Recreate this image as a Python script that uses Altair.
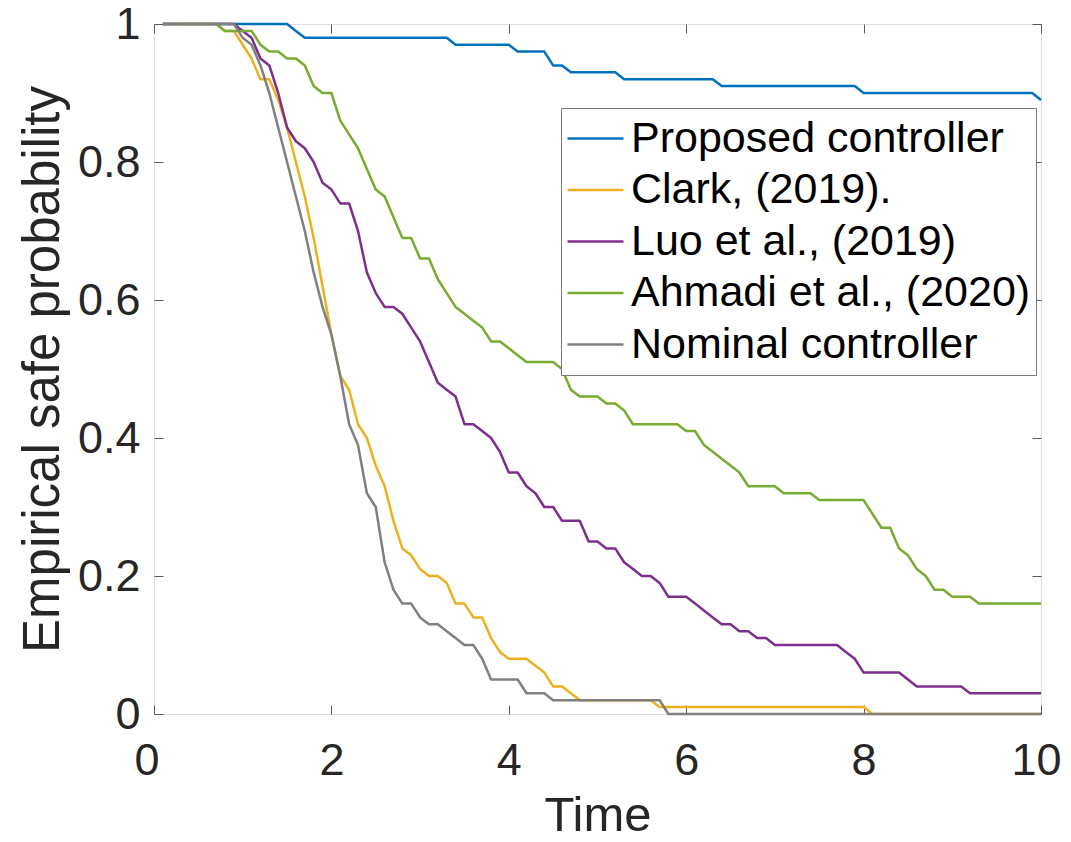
import altair as alt
import pandas as pd

# ---- data ----
series_names = ["Proposed controller", "Clark, (2019).", "Luo et al., (2019)",
                "Ahmadi et al., (2020)", "Nominal controller"]
series_colors = ["#0072BD", "#EDB120", "#7E2F8E", "#77AC30", "#808080"]

proposed_t = [0.1, 1.5, 1.6, 1.7, 3.3, 3.4, 4.0, 4.1, 4.4, 4.5, 4.6, 4.7, 5.2, 5.3,
              6.3, 6.4, 7.9, 8.0, 9.9, 10.0]
proposed_v = [1.00, 1.00, 0.99, 0.98, 0.98, 0.97, 0.97, 0.96, 0.96, 0.94, 0.94, 0.93, 0.93, 0.92,
              0.92, 0.91, 0.91, 0.90, 0.90, 0.89]

clark_t = [0.1, 0.7, 0.8, 0.9, 1.0, 1.1, 1.2, 1.3, 1.4, 1.5, 1.6, 1.7, 1.8, 1.9, 2.0,
           2.1, 2.2, 2.3, 2.4, 2.5, 2.6, 2.7, 2.8, 2.9, 3.0, 3.1, 3.2, 3.3, 3.4, 3.5,
           3.6, 3.7, 3.8, 3.9, 4.0, 4.2, 4.3, 4.4, 4.5, 4.6, 4.7, 4.8, 5.6, 5.7, 8.0,
           8.1, 10.0]
clark_v = [1.00, 1.00, 0.99, 0.99, 0.97, 0.95, 0.92, 0.92, 0.89, 0.85, 0.80, 0.75, 0.69, 0.62, 0.55,
           0.49, 0.47, 0.42, 0.40, 0.36, 0.33, 0.28, 0.24, 0.23, 0.21, 0.20, 0.20, 0.19, 0.16, 0.16,
           0.14, 0.14, 0.11, 0.09, 0.08, 0.08, 0.07, 0.06, 0.04, 0.04, 0.03, 0.02, 0.02, 0.01, 0.01,
           0.00, 0.00]

luo_t = [0.1, 0.9, 1.0, 1.1, 1.2, 1.3, 1.4, 1.5, 1.6, 1.7, 1.8, 1.9, 2.0, 2.1, 2.2,
         2.3, 2.4, 2.5, 2.6, 2.7, 2.8, 2.9, 3.0, 3.1, 3.2, 3.3, 3.4, 3.5, 3.6, 3.7,
         3.8, 3.9, 4.0, 4.1, 4.2, 4.3, 4.4, 4.5, 4.6, 4.8, 4.9, 5.0, 5.1, 5.2, 5.3,
         5.4, 5.5, 5.6, 5.7, 5.8, 6.0, 6.1, 6.2, 6.3, 6.4, 6.5, 6.6, 6.7, 6.8, 6.9,
         7.0, 7.7, 7.8, 7.9, 8.0, 8.4, 8.5, 8.6, 9.1, 9.2, 10.0]
luo_v = [1.00, 1.00, 0.99, 0.98, 0.95, 0.94, 0.90, 0.85, 0.83, 0.82, 0.80, 0.77, 0.76, 0.74, 0.74,
         0.70, 0.64, 0.61, 0.59, 0.59, 0.58, 0.56, 0.54, 0.51, 0.48, 0.47, 0.46, 0.42, 0.42, 0.41,
         0.40, 0.38, 0.35, 0.35, 0.33, 0.32, 0.30, 0.30, 0.28, 0.28, 0.25, 0.25, 0.24, 0.24, 0.22,
         0.21, 0.20, 0.20, 0.19, 0.17, 0.17, 0.16, 0.15, 0.14, 0.13, 0.13, 0.12, 0.12, 0.11, 0.11,
         0.10, 0.10, 0.09, 0.08, 0.06, 0.06, 0.05, 0.04, 0.04, 0.03, 0.03]

ahmadi_t = [0.1, 0.7, 0.8, 1.1, 1.2, 1.3, 1.4, 1.5, 1.6, 1.7, 1.8, 1.9, 2.0, 2.1, 2.2,
            2.3, 2.4, 2.5, 2.6, 2.7, 2.8, 2.9, 3.0, 3.1, 3.2, 3.3, 3.4, 3.5, 3.6, 3.7,
            3.8, 3.9, 4.0, 4.1, 4.2, 4.5, 4.6, 4.7, 4.8, 5.0, 5.1, 5.2, 5.3, 5.4, 5.9,
            6.0, 6.1, 6.2, 6.3, 6.4, 6.5, 6.6, 6.7, 7.0, 7.1, 7.4, 7.5, 8.0, 8.1, 8.2,
            8.3, 8.4, 8.5, 8.6, 8.7, 8.8, 8.9, 9.0, 9.2, 9.3, 10.0]
ahmadi_v = [1.00, 1.00, 0.99, 0.99, 0.97, 0.96, 0.96, 0.95, 0.95, 0.94, 0.91, 0.90, 0.90, 0.86, 0.84,
            0.82, 0.79, 0.76, 0.75, 0.72, 0.69, 0.69, 0.66, 0.66, 0.63, 0.61, 0.59, 0.58, 0.57, 0.56,
            0.54, 0.54, 0.53, 0.52, 0.51, 0.51, 0.50, 0.47, 0.46, 0.46, 0.45, 0.45, 0.44, 0.42, 0.42,
            0.41, 0.41, 0.39, 0.38, 0.37, 0.36, 0.35, 0.33, 0.33, 0.32, 0.32, 0.31, 0.31, 0.29, 0.27,
            0.27, 0.24, 0.23, 0.21, 0.20, 0.18, 0.18, 0.17, 0.17, 0.16, 0.16]

nominal_t = [0.1, 0.9, 1.0, 1.1, 1.2, 1.3, 1.4, 1.5, 1.6, 1.7, 1.8, 1.9, 2.0, 2.1, 2.2,
             2.3, 2.4, 2.5, 2.6, 2.7, 2.8, 2.9, 3.0, 3.1, 3.2, 3.3, 3.4, 3.5, 3.6, 3.7,
             3.8, 4.1, 4.2, 4.4, 4.5, 5.7, 5.8, 10.0]
nominal_v = [1.00, 1.00, 0.98, 0.97, 0.94, 0.90, 0.85, 0.80, 0.75, 0.70, 0.64, 0.59, 0.55, 0.49, 0.42,
             0.39, 0.32, 0.30, 0.22, 0.18, 0.16, 0.16, 0.14, 0.13, 0.13, 0.12, 0.11, 0.10, 0.10, 0.08,
             0.05, 0.05, 0.03, 0.03, 0.02, 0.02, 0.00, 0.00]

x_ticks = [0, 2, 4, 6, 8, 10]
y_ticks = [0, 0.2, 0.4, 0.6, 0.8, 1]

# ---- table ----
rows = []
all_t = [proposed_t, clark_t, luo_t, ahmadi_t, nominal_t]
all_v = [proposed_v, clark_v, luo_v, ahmadi_v, nominal_v]
for k, (name, ts, vs) in enumerate(zip(series_names, all_t, all_v)):
    for i, (t, v) in enumerate(zip(ts, vs)):
        rows.append({"Time": t, "P": v, "Series": name, "order": i, "z": k})
df = pd.DataFrame(rows)

FONT = "Liberation Sans"
TXT = "#262626"
AX = "#5a5a5a"

x_scale = alt.Scale(domain=[0, 10], nice=False, zero=False)
y_scale = alt.Scale(domain=[0, 1], nice=False, zero=False)

color = alt.Color(
    "Series:N",
    sort=series_names,
    scale=alt.Scale(domain=series_names, range=series_colors),
    legend=alt.Legend(
        title=None, orient="none", legendX=407, legendY=84,
        symbolType="stroke", symbolSize=3136, symbolStrokeWidth=2.5,
        labelFontSize=43, labelFont=FONT, labelColor="black", labelOffset=6,
        padding=5, strokeColor="#7a7a7a", fillColor="white",
        clipHeight=51, rowPadding=0.5, labelLimit=600,
    ),
)

lines = alt.Chart(df).mark_line(strokeWidth=2.5, strokeJoin="round").encode(
    x=alt.X("Time:Q", scale=x_scale,
            axis=alt.Axis(values=x_ticks, format="d", orient="bottom", offset=-9, tickSize=9,
                          domain=False, tickColor=AX, tickWidth=1, grid=False,
                          labelFontSize=45, labelFont=FONT, labelColor=TXT, labelPadding=24,
                          labelFlush=True, labelFlushOffset=20,
                          title="Time", titleFontSize=49, titleFont=FONT,
                          titleFontWeight="normal", titleColor=TXT, titlePadding=8)),
    y=alt.Y("P:Q", scale=y_scale,
            axis=alt.Axis(values=y_ticks, format="~g", orient="left", offset=-9, tickSize=9,
                          domain=False, tickColor=AX, tickWidth=1, grid=False,
                          labelFontSize=45, labelFont=FONT, labelColor=TXT, labelPadding=14,
                          labelFlush=False, title="Empirical safe probability",
                          titleFontSize=51, titleFont=FONT, titleFontWeight="normal",
                          titleColor=TXT, titlePadding=8)),
    color=color,
    detail="z:O",
    order="order:Q",
)

mirror = alt.Chart(df).mark_line(strokeOpacity=0, strokeWidth=0.1).encode(
    x=alt.X("Time:Q", scale=x_scale,
            axis=alt.Axis(values=x_ticks, orient="top", offset=-9, tickSize=9, labels=False,
                          domain=False, tickColor=AX, tickWidth=1, grid=False, title=None)),
    y=alt.Y("P:Q", scale=y_scale,
            axis=alt.Axis(values=y_ticks, orient="right", offset=-9, tickSize=9, labels=False,
                          domain=False, tickColor=AX, tickWidth=1, grid=False, title=None)),
    detail="Series:N",
)

chart = alt.layer(lines, mirror).resolve_axis(x="independent", y="independent").properties(
    width=887, height=690,
    autosize=alt.AutoSizeParams(type="none"),
    padding={"left": 146, "top": 16, "right": 22, "bottom": 120},
).configure_view(stroke=AX, strokeWidth=1.2).configure(background="white")

chart.save("out.html", embed_options={"renderer": "svg", "actions": False})
